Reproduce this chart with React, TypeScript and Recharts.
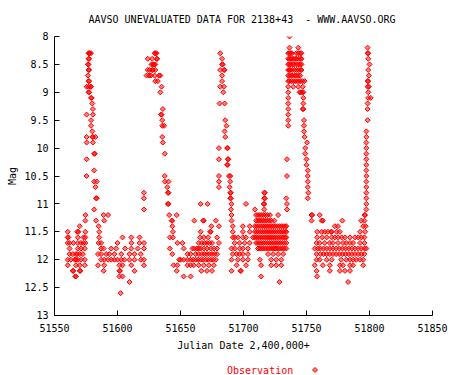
import React from 'react'
import { ScatterChart, Scatter, XAxis, YAxis } from 'recharts'

// [magnitude, julian dates observed at that magnitude]
type Row = [number, number[]]

const title = 'AAVSO UNEVALUATED DATA FOR 2138+43  - WWW.AAVSO.ORG'
const xLabel = 'Julian Date 2,400,000+'
const yLabel = 'Mag'
const seriesName = 'Observation'
const xTicks = [51550, 51600, 51650, 51700, 51750, 51800, 51850]
const yTicks = [8, 8.5, 9, 9.5, 10, 10.5, 11, 11.5, 12, 12.5, 13]

const season1: Row[] = [
  [8.3, [51577, 51577.5, 51578, 51579]],
  [8.4, [51577, 51577.5]],
  [8.5, [51576.5, 51577]],
  [8.6, [51577, 51577.5]],
  [8.7, [51576.5]],
  [8.8, [51577, 51577.5]],
  [8.9, [51575.5, 51577, 51578.5, 51579]],
  [9.0, [51577, 51577.5]],
  [9.1, [51579, 51579.5]],
  [9.2, [51580]],
  [9.3, [51580.5]],
  [9.4, [51575.5, 51580.5]],
  [9.5, [51579]],
  [9.6, [51579]],
  [9.7, [51580]],
  [9.8, [51575.5, 51580, 51580.5, 51582.5]],
  [9.9, [51575.5, 51580.5]],
  [10.1, [51581.5, 51582]],
  [10.2, [51575.5]],
  [10.4, [51581.5]],
  [10.5, [51575.5]],
  [10.6, [51581.5, 51583.5]],
  [10.7, [51582.5]],
  [10.9, [51583, 51583.5]],
  [11.1, [51581.5]],
  [11.2, [51574.5, 51589, 51592.5]],
  [11.3, [51574.5, 51583, 51589.5]],
  [11.4, [51570, 51585]],
  [11.5, [51560.5, 51568, 51569, 51574.5, 51585.5]],
  [11.6, [51560.5, 51561, 51568.5, 51573, 51574.5, 51585.5, 51604, 51611, 51617.5]],
  [11.7, [51560.5, 51562, 51565, 51568.5, 51571, 51573, 51574.5, 51585, 51587, 51600, 51611, 51617.5, 51621]],
  [11.8, [51562, 51568.5, 51571, 51574, 51587, 51589, 51595, 51599, 51606, 51611, 51616, 51621]],
  [11.9, [51562, 51564.5, 51567, 51568, 51570, 51572.5, 51584.5, 51587, 51591, 51593.5, 51597.5, 51603, 51609.5, 51613.5, 51618.5]],
  [12.0, [51560.5, 51563, 51566, 51567, 51568.5, 51571, 51574, 51587, 51589.5, 51592.5, 51595, 51597.5, 51600, 51603, 51605.5, 51609.5, 51613.5, 51618.5, 51621]],
  [12.1, [51560.5, 51567, 51570, 51574, 51584.5, 51589.5, 51601.5, 51604, 51611, 51621]],
  [12.2, [51564.5, 51565, 51570, 51570.5, 51589, 51601.5, 51602, 51613.5]],
  [12.3, [51566.5, 51567, 51601.5, 51604]],
  [12.4, [51609.5]],
  [12.6, [51602.5]],
]

const season2: Row[] = [
  [8.3, [51629.5, 51630, 51631, 51681.5]],
  [8.4, [51624, 51627.5, 51631, 51631.5, 51683]],
  [8.5, [51627, 51628, 51629, 51630, 51683, 51683.5]],
  [8.6, [51624, 51625.5, 51627.5, 51628, 51630, 51681.5, 51684.5, 51685]],
  [8.7, [51623, 51625, 51626.5, 51629.5, 51633, 51634, 51683]],
  [8.8, [51630, 51632, 51683]],
  [8.9, [51635, 51681.5, 51684.5]],
  [9.0, [51634, 51684]],
  [9.2, [51681, 51685]],
  [9.3, [51636]],
  [9.4, [51634.5, 51635]],
  [9.5, [51635.5, 51685.5]],
  [9.6, [51635.5, 51637, 51686.5]],
  [9.7, [51685]],
  [9.8, [51635.5, 51685.5]],
  [9.9, [51636]],
  [10.0, [51680.5, 51687, 51687.5]],
  [10.1, [51637.5]],
  [10.2, [51680.5, 51687.5, 51688]],
  [10.3, [51687, 51687.5]],
  [10.5, [51637.5, 51680.5, 51688.5, 51689.5]],
  [10.6, [51637.5, 51640.5, 51680.5, 51689.5]],
  [10.7, [51639.5, 51680.5, 51689]],
  [10.8, [51621, 51640, 51640.5, 51689.5]],
  [10.9, [51621, 51689.5]],
  [11.0, [51640, 51640.5, 51666, 51671.5]],
  [11.1, [51621]],
  [11.2, [51641, 51647]],
  [11.3, [51643, 51643.5, 51661, 51668, 51668.5, 51678]],
  [11.4, [51643.5, 51674.5, 51680.5]],
  [11.5, [51644, 51666, 51673.5, 51674]],
  [11.6, [51641.5, 51644, 51665.5, 51668.5, 51672, 51679]],
  [11.7, [51647.5, 51651.5, 51664.5, 51667, 51669, 51671, 51673, 51675, 51680.5]],
  [11.8, [51641.5, 51652.5, 51659.5, 51661, 51663, 51664.5, 51666, 51668.5, 51671, 51674, 51676.5, 51679]],
  [11.9, [51643.5, 51655.5, 51658, 51662, 51664.5, 51667, 51669, 51671, 51673, 51675, 51677, 51679]],
  [12.0, [51649, 51650, 51652.5, 51655.5, 51658, 51660, 51662, 51664, 51666, 51668, 51670, 51672, 51674, 51676, 51678]],
  [12.1, [51644.5, 51647.5, 51655.5, 51658, 51660.5, 51664.5, 51668.5, 51672.5, 51676.5]],
  [12.2, [51647, 51666.5, 51671, 51675]],
  [12.3, [51652.5, 51658]],
]

const season3: Row[] = [
  [8.0, [51736.5]],
  [8.2, [51736.5, 51743.5]],
  [8.3, [51735.5, 51736.5, 51737.5, 51738.5, 51742, 51743.5, 51745, 51746]],
  [8.4, [51735.5, 51736.5, 51737.5, 51738.5, 51739.5, 51741, 51742, 51743.5, 51745, 51746]],
  [8.5, [51735.5, 51736.5, 51737.5, 51739, 51740, 51742, 51743.5, 51745, 51746]],
  [8.6, [51735.5, 51736.5, 51737.5, 51739, 51740.5, 51742, 51743.5, 51745, 51746]],
  [8.7, [51735.5, 51736.5, 51738, 51739, 51741, 51742, 51743.5, 51745]],
  [8.8, [51735.5, 51736.5, 51738, 51739.5, 51741, 51742.5, 51744, 51745.5, 51747, 51748.5]],
  [8.9, [51735.5, 51739.5, 51743.5, 51747]],
  [9.0, [51735.5, 51744.5, 51745.5, 51746.5, 51747.5]],
  [9.1, [51735.5, 51747.5]],
  [9.2, [51735.5, 51747.5]],
  [9.3, [51735.5, 51747, 51747.5]],
  [9.4, [51735.5]],
  [9.5, [51735.5, 51748]],
  [9.6, [51735.5, 51748]],
  [9.7, [51748]],
  [9.8, [51748.5]],
  [9.9, [51750.5]],
  [10.0, [51749]],
  [10.1, [51749]],
  [10.2, [51734.5, 51750]],
  [10.3, [51750]],
  [10.4, [51751]],
  [10.5, [51734.5, 51751]],
  [10.6, [51751]],
  [10.7, [51751]],
  [10.8, [51690, 51716.5, 51717, 51751.5]],
  [10.9, [51690, 51716.5, 51717, 51734, 51751]],
  [11.0, [51690.5, 51702, 51716, 51716.5, 51734.5]],
  [11.1, [51690, 51709, 51716.5, 51734.5]],
  [11.2, [51690.5, 51710, 51711.5, 51713, 51714.5, 51716, 51717.5, 51719, 51721, 51727.5, 51754, 51754.5, 51760.5]],
  [11.3, [51690.5, 51710, 51711.5, 51713, 51714.5, 51716, 51717.5, 51719, 51720.5, 51722, 51724.5, 51754]],
  [11.4, [51691.5, 51699.5, 51705, 51709, 51710.5, 51712, 51713.5, 51715, 51716.5, 51718, 51719.5, 51721, 51722.5, 51724, 51725.5, 51727, 51728.5, 51730, 51731.5, 51733, 51734]],
  [11.5, [51691.5, 51699.5, 51705, 51709, 51710.5, 51712, 51713.5, 51715, 51716.5, 51718, 51719.5, 51721, 51722.5, 51724, 51725.5, 51727, 51728.5, 51730, 51731.5, 51733, 51734, 51758.5]],
  [11.6, [51691.5, 51693, 51695.5, 51699.5, 51702, 51707.5, 51709, 51710.5, 51712, 51713.5, 51715, 51716.5, 51718, 51719.5, 51721, 51722.5, 51724, 51725.5, 51727, 51728.5, 51730, 51731.5, 51733, 51734, 51758.5]],
  [11.7, [51693, 51697, 51701, 51705, 51710, 51711.5, 51713, 51714.5, 51716, 51717.5, 51719, 51720.5, 51722, 51723.5, 51725, 51726.5, 51728, 51729.5, 51731, 51732.5, 51734, 51758, 51760.5]],
  [11.8, [51690.5, 51693, 51697, 51699.5, 51703.5, 51711.5, 51713, 51714.5, 51716, 51717.5, 51719, 51720.5, 51722, 51723.5, 51725, 51726.5, 51728, 51729.5, 51731, 51732.5, 51734, 51756.5, 51759]],
  [11.9, [51691.5, 51694.5, 51697, 51699.5, 51703.5, 51719.5, 51723.5, 51727.5, 51731.5, 51758]],
  [12.0, [51690.5, 51695.5, 51699.5, 51703.5, 51713, 51722, 51726, 51730, 51758]],
  [12.1, [51694.5, 51702, 51714, 51722, 51726, 51730, 51756.5]],
  [12.2, [51690.5, 51697.5, 51698, 51758]],
  [12.3, [51714, 51758.5]],
  [12.4, [51728.5]],
]

const season4: Row[] = [
  [8.2, [51798.5]],
  [8.3, [51798.5, 51799]],
  [8.4, [51799]],
  [8.5, [51800]],
  [8.6, [51799]],
  [8.7, [51799.5]],
  [8.8, [51798.5, 51799]],
  [8.9, [51798.5, 51799.5]],
  [9.0, [51799]],
  [9.1, [51799, 51801]],
  [9.2, [51798.5]],
  [9.3, [51798.5]],
  [9.5, [51798.5]],
  [9.7, [51797.5]],
  [9.8, [51797.5]],
  [9.9, [51797.5]],
  [10.0, [51797.5]],
  [10.1, [51797.5]],
  [10.2, [51797.5]],
  [10.3, [51797.5]],
  [10.4, [51797.5]],
  [10.5, [51797.5]],
  [10.6, [51797.5]],
  [10.7, [51797.5]],
  [10.8, [51797.5]],
  [10.9, [51797.5]],
  [11.0, [51797.5]],
  [11.1, [51797.5]],
  [11.2, [51796, 51796.5]],
  [11.3, [51762, 51763, 51778.5, 51793.5, 51796]],
  [11.4, [51772.5, 51775, 51795, 51797]],
  [11.5, [51762, 51764.5, 51767, 51769.5, 51770, 51774, 51776.5, 51792.5, 51796.5]],
  [11.6, [51762.5, 51766, 51770, 51772.5, 51775, 51778, 51780.5, 51784.5, 51788.5, 51791, 51793.5, 51796]],
  [11.7, [51764.5, 51768.5, 51771, 51775, 51779, 51781.5, 51784.5, 51787, 51792.5, 51796]],
  [11.8, [51761, 51763.5, 51766, 51768.5, 51771, 51773.5, 51776, 51778.5, 51781, 51783.5, 51786, 51788.5, 51791, 51793.5, 51796, 51797.5]],
  [11.9, [51761, 51763.5, 51766, 51768.5, 51771, 51773.5, 51776, 51778.5, 51781, 51783.5, 51786, 51788.5, 51791, 51793.5, 51796]],
  [12.0, [51760.5, 51766, 51770, 51777.5, 51781.5, 51784.5, 51787, 51789.5, 51792.5, 51795]],
  [12.1, [51763, 51768.5, 51776.5, 51779, 51784.5, 51787, 51795]],
  [12.2, [51768.5, 51776.5, 51780.5, 51784.5]],
  [12.4, [51783]],
]

const data = [...season1, ...season2, ...season3, ...season4].flatMap(([mag, jds]) =>
  jds.map((jd) => ({ jd, mag })),
)

const mono = "'DejaVu Sans Mono', monospace"
const red = '#ff0000'
const tickLen = 5

const Diamond = ({ cx, cy }: any) => {
  if (cx == null || cy == null) return null
  const r = 2.5
  return (
    <polygon
      points={`${cx},${cy - r} ${cx + r},${cy} ${cx},${cy + r} ${cx - r},${cy}`}
      fill={red}
      fillOpacity={0.5}
      stroke={red}
      strokeWidth={1}
    />
  )
}

const crisp = (v: number) => Math.round(v - 0.5) + 0.5

const BottomTick = ({ x, y, payload }: any) => (
  <g>
    <line x1={crisp(x)} x2={crisp(x)} y1={y} y2={y - tickLen} stroke="#000" />
    <text x={x} y={y + 16} textAnchor="middle" fontSize={10} fontFamily={mono} fill="#000">
      {payload.value}
    </text>
  </g>
)

const TopTick = ({ x, y }: any) => (
  <line x1={crisp(x)} x2={crisp(x)} y1={y} y2={y + tickLen} stroke="#000" />
)

const LeftTick = ({ x, y, payload }: any) => (
  <g>
    <line x1={x} x2={x + tickLen} y1={crisp(y)} y2={crisp(y)} stroke="#000" />
    <text x={x - 6} y={y + 3.6} textAnchor="end" fontSize={10} fontFamily={mono} fill="#000">
      {payload.value}
    </text>
  </g>
)

const RightTick = ({ x, y }: any) => (
  <line x1={x} x2={x - tickLen} y1={crisp(y)} y2={crisp(y)} stroke="#000" />
)

export default function App() {
  return (
    <div style={{ position: 'absolute', left: 0, top: 0, width: 450, height: 375, background: '#fff' }}>
      <ScatterChart width={450} height={375} margin={{ top: 36.5, right: 17.5, bottom: 0, left: 0.5 }}>
        <XAxis
          xAxisId="bottom"
          dataKey="jd"
          type="number"
          domain={[51550, 51850]}
          ticks={xTicks}
          interval={0}
          height={59.5}
          tickSize={0}
          tickMargin={0}
          axisLine={{ stroke: '#000' }}
          tickLine={false}
          tick={<BottomTick />}
          allowDataOverflow
        />
        <XAxis
          xAxisId="top"
          orientation="top"
          type="number"
          domain={[51550, 51850]}
          ticks={xTicks}
          interval={0}
          height={0}
          tickSize={0}
          tickMargin={0}
          axisLine={{ stroke: '#000' }}
          tickLine={false}
          tick={<TopTick />}
          allowDataOverflow
        />
        <YAxis
          yAxisId="left"
          dataKey="mag"
          type="number"
          reversed
          domain={[8, 13]}
          ticks={yTicks}
          interval={0}
          width={54}
          tickSize={0}
          tickMargin={0}
          axisLine={{ stroke: '#000' }}
          tickLine={false}
          tick={<LeftTick />}
          allowDataOverflow
        />
        <YAxis
          yAxisId="right"
          orientation="right"
          type="number"
          reversed
          domain={[8, 13]}
          ticks={yTicks}
          interval={0}
          width={0}
          tickSize={0}
          tickMargin={0}
          axisLine={{ stroke: '#000' }}
          tickLine={false}
          tick={<RightTick />}
          allowDataOverflow
        />
        <Scatter
          name={seriesName}
          data={data}
          xAxisId="bottom"
          yAxisId="left"
          shape={<Diamond />}
          isAnimationActive={false}
        />
      </ScatterChart>
      <svg
        width={450}
        height={375}
        style={{ position: 'absolute', left: 0, top: 0, pointerEvents: 'none' }}
      >
        <text x={242} y={23} textAnchor="middle" fontSize={10} fontFamily={mono} style={{ whiteSpace: 'pre' }}>
          {title}
        </text>
        <text x={243.5} y={349} textAnchor="middle" fontSize={10} fontFamily={mono}>
          {xLabel}
        </text>
        <text x={16} y={176} textAnchor="middle" fontSize={10} fontFamily={mono} transform="rotate(-90 16 176)">
          {yLabel}
        </text>
        <text x={227} y={374} fontSize={10} fontFamily={mono} fill={red}>
          {seriesName}
        </text>
        <Diamond cx={315} cy={370} />
      </svg>
    </div>
  )
}
